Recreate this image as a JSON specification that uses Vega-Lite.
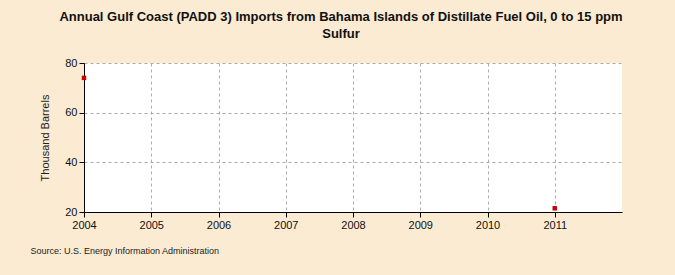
{
  "$schema": "https://vega.github.io/schema/vega-lite/v6.json",
  "width": 538,
  "height": 149,
  "autosize": {"type": "none"},
  "padding": {"left": 84, "top": 63, "right": 53, "bottom": 63},
  "background": "#fbebd3",
  "title": {
    "text": ["Annual Gulf Coast (PADD 3) Imports from Bahama Islands of Distillate Fuel Oil, 0 to 15 ppm", "Sulfur"],
    "anchor": "middle",
    "dx": -12,
    "offset": 16,
    "font": "Liberation Sans",
    "fontSize": 13,
    "fontWeight": "bold",
    "color": "#111111",
    "lineHeight": 17
  },
  "data": {
    "values": [
      {"year": 2004, "value": 74},
      {"year": 2011, "value": 21.5}
    ]
  },
  "mark": {"type": "square", "size": 20, "color": "#cc0000", "opacity": 1},
  "encoding": {
    "x": {
      "field": "year",
      "type": "quantitative",
      "scale": {"domain": [2004, 2012], "nice": false, "zero": false},
      "axis": {
        "values": [2004, 2005, 2006, 2007, 2008, 2009, 2010, 2011],
        "format": "d",
        "title": "Source: U.S. Energy Information Administration",
        "titleAnchor": "start",
        "titleX": -54,
        "titleY": 38,
        "titleBaseline": "middle",
        "titleFont": "Liberation Sans",
        "titleFontSize": 9,
        "titleFontWeight": "normal",
        "titleColor": "#222222",
        "labelFont": "Liberation Sans",
        "labelFontSize": 11,
        "labelColor": "#111111",
        "labelPadding": 2,
        "tickSize": 5,
        "tickColor": "#000000",
        "domainColor": "#000000",
        "gridDash": [3, 3],
        "gridColor": "#aaaaaa",
        "labelFlush": false
      }
    },
    "y": {
      "field": "value",
      "type": "quantitative",
      "scale": {"domain": [20, 80], "nice": false, "zero": false},
      "axis": {
        "values": [20, 40, 60, 80],
        "title": "Thousand Barrels",
        "titleFont": "Liberation Sans",
        "titleFontSize": 11,
        "titleFontWeight": "normal",
        "titleColor": "#222222",
        "titlePadding": 14,
        "labelFont": "Liberation Sans",
        "labelFontSize": 11,
        "labelColor": "#111111",
        "labelPadding": 2,
        "tickSize": 5,
        "tickColor": "#000000",
        "domainColor": "#000000",
        "gridDash": [3, 3],
        "gridColor": "#aaaaaa"
      }
    }
  },
  "config": {
    "view": {"fill": "#ffffff", "stroke": null}
  }
}
